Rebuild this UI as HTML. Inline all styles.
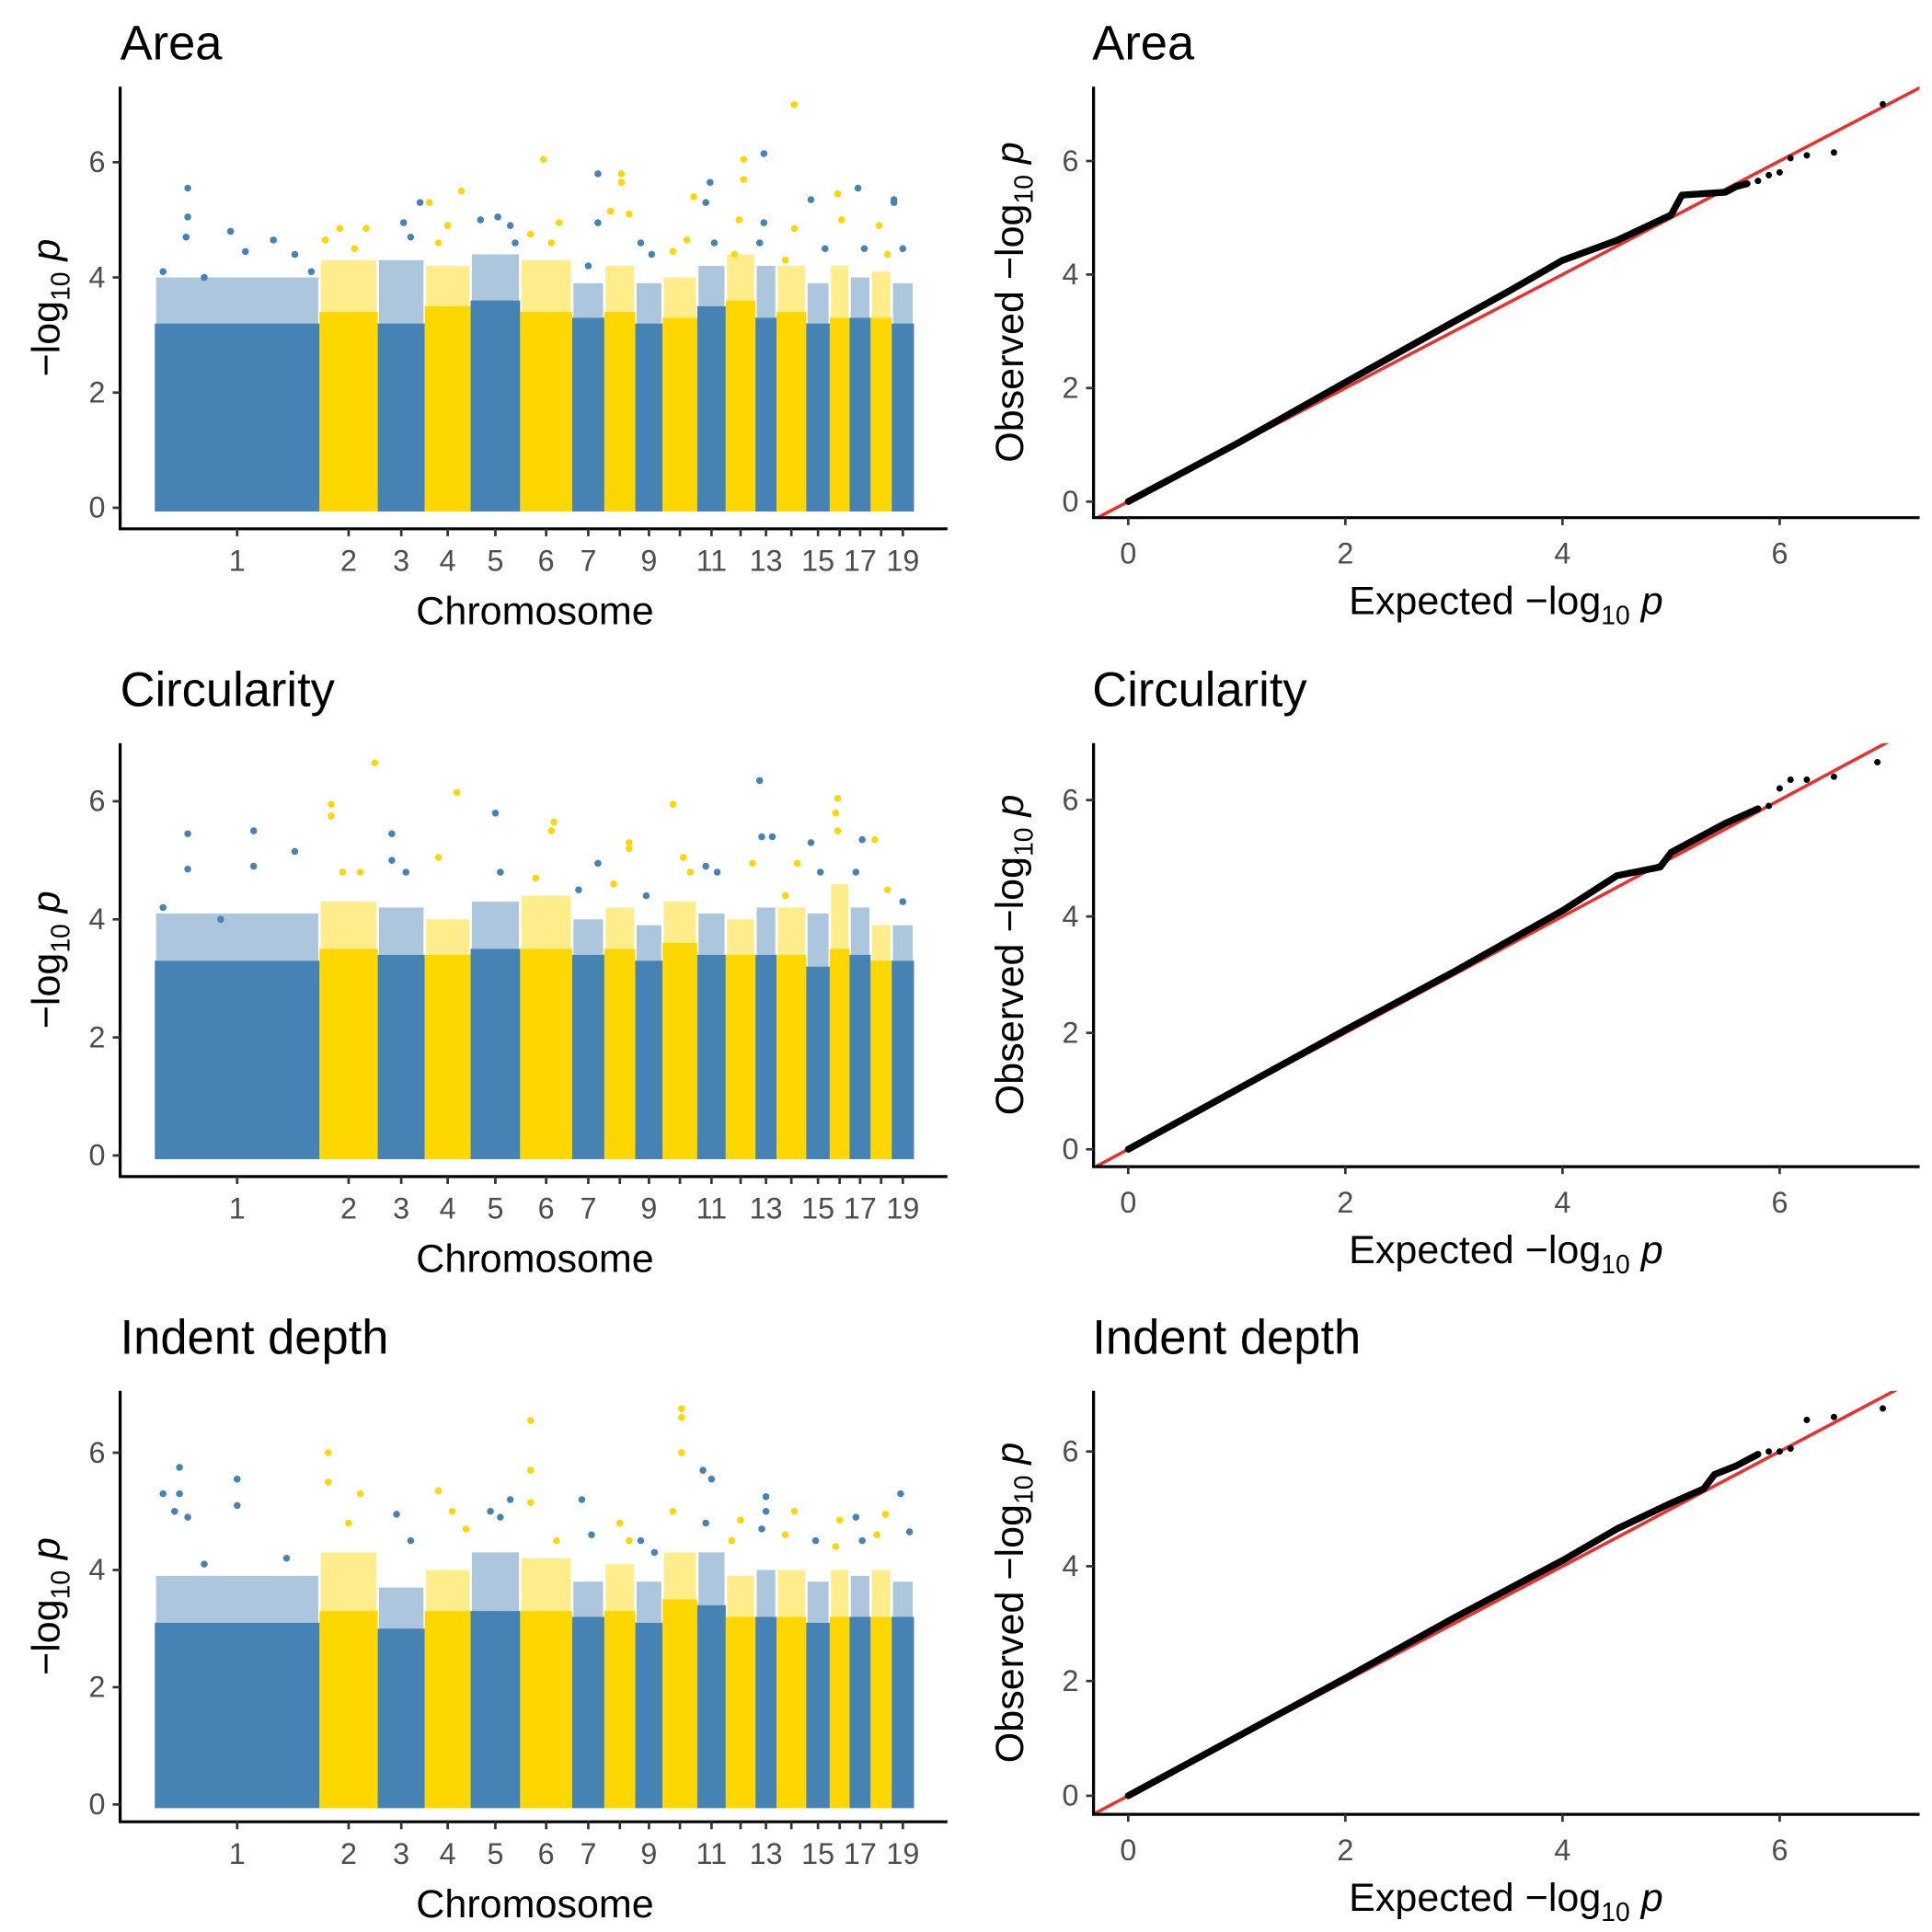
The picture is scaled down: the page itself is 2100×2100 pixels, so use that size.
<!DOCTYPE html>
<html><head><meta charset="utf-8"><style>
html,body{margin:0;padding:0;background:#fff}
svg{display:block}
text{font-family:"Liberation Sans",sans-serif}
</style></head><body>
<svg id="fig" width="2100" height="2100" viewBox="0 0 1560 1560" xmlns="http://www.w3.org/2000/svg"></svg>
<script>
// ---------- data ----------
const chromNames = ["1","2","3","4","5","6","7","8","9","10","11","12","13","14","15","16","17","18","19"];
const chromLengths = [133,47,38,37,40,42,26,25,22,28,23,24,17,24,19,16,17,17,18];
const tickLabelsShown = ["1","2","3","4","5","6","7","","9","","11","","13","","15","","17","","19"];
const yTicks = [0,2,4,6];
const qqTicks = [0,2,4,6];
const panelTitles = ["Area","Circularity","Indent depth"];

const areaCeil = [3.2,3.4,3.2,3.5,3.6,3.4,3.3,3.4,3.2,3.3,3.5,3.6,3.3,3.4,3.2,3.3,3.3,3.3,3.2];
const circCeil = [3.3,3.5,3.4,3.4,3.5,3.5,3.4,3.5,3.3,3.6,3.4,3.4,3.4,3.4,3.2,3.5,3.4,3.3,3.3];
const indentCeil = [3.1,3.3,3.0,3.3,3.3,3.3,3.2,3.3,3.1,3.5,3.4,3.2,3.2,3.2,3.1,3.2,3.2,3.2,3.2];
const areaSpread = [4.0,4.3,4.3,4.2,4.4,4.3,3.9,4.2,3.9,4.0,4.2,4.4,4.2,4.2,3.9,4.2,4.0,4.1,3.9];
const circSpread = [4.1,4.3,4.2,4.0,4.3,4.4,4.0,4.2,3.9,4.3,4.1,4.0,4.2,4.2,4.1,4.6,4.2,3.9,3.9];
const indentSpread = [3.9,4.3,3.7,4.0,4.3,4.2,3.8,4.1,3.8,4.3,4.3,3.9,4.0,4.0,3.8,4.0,3.9,4.0,3.8];

// hits: [chromosome index, fraction along chromosome, -log10 p]
const areaHits = [[0,0.2,5.55],[0,0.2,5.05],[0,0.19,4.7],[0,0.46,4.8],[0,0.55,4.45],[0,0.72,4.65],[0,0.85,4.4],[0,0.05,4.1],[0,0.3,4.0],[0,0.95,4.1],
[1,0.1,4.65],[1,0.35,4.85],[1,0.8,4.85],[1,0.6,4.5],[2,0.55,4.95],[2,0.9,5.3],[2,0.7,4.7],[3,0.1,5.3],[3,0.8,5.5],[3,0.5,4.9],[3,0.3,4.6],
[4,0.2,5.0],[4,0.55,5.05],[4,0.8,4.9],[4,0.9,4.6],[5,0.45,6.05],[5,0.2,4.75],[5,0.75,4.95],[5,0.6,4.6],[6,0.8,5.8],[6,0.8,4.95],[6,0.5,4.2],
[7,0.55,5.8],[7,0.55,5.65],[7,0.2,5.15],[7,0.8,5.1],[8,0.2,4.6],[8,0.6,4.4],[9,0.3,4.45],[9,0.7,4.65],[9,0.9,5.4],[10,0.45,5.65],[10,0.3,5.3],[10,0.6,4.6],
[11,0.6,6.05],[11,0.6,5.7],[11,0.45,5.0],[11,0.3,4.4],[12,0.4,6.15],[12,0.4,4.95],[12,0.2,4.6],[13,0.6,7.0],[13,0.6,4.85],[13,0.3,4.3],
[14,0.2,5.35],[14,0.8,4.5],[15,0.4,5.45],[15,0.6,5.0],[16,0.4,5.55],[16,0.7,4.5],[17,0.4,4.9],[17,0.8,4.4],[18,0.1,5.3],[18,0.1,5.35],[18,0.5,4.5]];
const circHits = [[0,0.2,5.45],[0,0.6,5.5],[0,0.85,5.15],[0,0.2,4.85],[0,0.6,4.9],[0,0.05,4.2],[0,0.4,4.0],
[1,0.2,5.95],[1,0.2,5.75],[1,0.95,6.65],[1,0.4,4.8],[1,0.7,4.8],[2,0.3,5.45],[2,0.3,5.0],[2,0.6,4.8],[3,0.7,6.15],[3,0.3,5.05],
[4,0.5,5.8],[4,0.6,4.8],[5,0.65,5.65],[5,0.6,5.5],[5,0.3,4.7],[6,0.8,4.95],[6,0.2,4.5],[7,0.8,5.3],[7,0.8,5.2],[7,0.3,4.6],[8,0.4,4.4],
[9,0.3,5.95],[9,0.6,5.05],[9,0.8,4.8],[10,0.3,4.9],[10,0.7,4.8],[11,0.9,4.95],[12,0.2,6.35],[12,0.3,5.4],[12,0.8,5.4],[13,0.7,4.95],[13,0.3,4.4],
[14,0.2,5.3],[14,0.6,4.8],[15,0.4,6.05],[15,0.3,5.8],[15,0.4,5.5],[16,0.6,5.35],[16,0.3,4.8],[17,0.2,5.35],[17,0.8,4.5],[18,0.5,4.3]];
const indentHits = [[0,0.15,5.75],[0,0.15,5.3],[0,0.12,5.0],[0,0.5,5.55],[0,0.5,5.1],[0,0.2,4.9],[0,0.05,5.3],[0,0.3,4.1],[0,0.8,4.2],
[1,0.15,6.0],[1,0.15,5.5],[1,0.7,5.3],[1,0.5,4.8],[2,0.4,4.95],[2,0.7,4.5],[3,0.3,5.35],[3,0.6,5.0],[3,0.9,4.7],[4,0.4,5.0],[4,0.8,5.2],[4,0.6,4.9],
[5,0.2,6.55],[5,0.2,5.7],[5,0.2,5.15],[5,0.7,4.5],[6,0.3,5.2],[6,0.6,4.6],[7,0.5,4.8],[7,0.8,4.5],[8,0.2,4.5],[8,0.7,4.3],
[9,0.55,6.75],[9,0.55,6.6],[9,0.55,6.0],[9,0.3,5.0],[10,0.2,5.7],[10,0.5,5.55],[10,0.3,4.8],[11,0.5,4.85],[11,0.2,4.5],
[12,0.5,5.25],[12,0.5,5.0],[12,0.3,4.7],[13,0.6,5.0],[13,0.3,4.6],[14,0.4,4.5],[15,0.5,4.85],[15,0.3,4.4],[16,0.3,4.9],[16,0.6,4.5],[17,0.3,4.6],[17,0.7,4.95],[18,0.4,5.3],[18,0.8,4.65]];

// QQ: line segments [expected, observed] and isolated top points
const areaQQLine = [[0,0],[1,1.02],[2,2.1],[3,3.17],[3.5,3.7],[4,4.25],[4.5,4.6],[5,5.05],[5.1,5.4],[5.5,5.45],[5.6,5.55],[5.7,5.6]];
const areaQQPts = [[5.8,5.65],[5.9,5.75],[6.0,5.8],[6.1,6.05],[6.25,6.1],[6.5,6.15],[6.95,7.0]];
const circQQLine = [[0,0],[2,2.05],[3,3.05],[4,4.1],[4.5,4.7],[4.9,4.85],[5.0,5.1],[5.5,5.6],[5.8,5.85]];
const circQQPts = [[5.9,5.9],[6.0,6.2],[6.1,6.35],[6.25,6.35],[6.5,6.4],[6.9,6.65]];
const indentQQLine = [[0,0],[2,2.05],[3,3.1],[3.5,3.6],[4,4.1],[4.5,4.65],[5,5.1],[5.3,5.35],[5.4,5.6],[5.6,5.75],[5.8,5.95]];
const indentQQPts = [[5.9,6.0],[6.0,6.0],[6.1,6.05],[6.25,6.55],[6.5,6.6],[6.95,6.75]];

// ---------- drawing ----------
const NS="http://www.w3.org/2000/svg";
const svg=document.getElementById('fig');
function el(tag,attrs,parent){const e=document.createElementNS(NS,tag);for(const k in attrs)e.setAttribute(k,attrs[k]);(parent||svg).appendChild(e);return e;}
const BLUE="#4682B4", GOLD="#FFD700";

function yLabel(g,x,y,prefix){
  const t=el('text',{x:x,y:y,'font-size':32,'text-anchor':'middle',transform:`rotate(-90 ${x} ${y})`,fill:'#000'},g);
  
  
  t.innerHTML=`${prefix}\u2212log<tspan font-size="21" dy="8">10</tspan><tspan dy="-8" font-style="italic"> p</tspan>`;
}

const mRows=[{top:70,bot:427,y0:410,y6:131,ty:48},{top:600,bot:950,y0:933,y6:647,ty:570},{top:1123,bot:1471,y0:1457,y6:1173,ty:1093}];
const qRows=[{top:70,bot:418,y0:405,y6:130,ty:48},{top:600,bot:942,y0:928,y6:646,ty:570},{top:1123,bot:1465,y0:1450,y6:1172,ty:1093}];
const ceils=[areaCeil,circCeil,indentCeil], spreads=[areaSpread,circSpread,indentSpread], hitsAll=[areaHits,circHits,indentHits];
const qqLines=[areaQQLine,circQQLine,indentQQLine], qqPts=[areaQQPts,circQQPts,indentQQPts];

const X0=125,X1=738;
const total=chromLengths.reduce((a,b)=>a+b,0);
const starts=[];let acc=0;chromLengths.forEach(l=>{starts.push(acc);acc+=l;});
const xChr=(c,f)=>X0+(starts[c]+f*chromLengths[c])/total*(X1-X0);

for(let r=0;r<3;r++){
  const R=mRows[r];
  const yS=v=>R.y0+(R.y6-R.y0)*v/6;
  const g=el('g',{});
  
  
  const tt=el('text',{x:97,y:R.ty,'font-size':39,fill:'#000'},g);tt.textContent=panelTitles[r];
  
  
  chromLengths.forEach((l,c)=>{
    const col=c%2?GOLD:BLUE;
    const x1=xChr(c,0),x2=xChr(c,1);
    const sp=el('rect',{x:x1+1,y:yS(spreads[r][c]),width:x2-x1-2,height:yS(ceils[r][c])-yS(spreads[r][c]),fill:col,opacity:0.45},g);
    
    
    const rc=el('rect',{x:x1,y:yS(ceils[r][c]),width:x2-x1,height:yS(0)-yS(ceils[r][c])+3,fill:col},g);
    
    
  });
  hitsAll[r].forEach(h=>{
    const p=el('circle',{cx:xChr(h[0],h[1]),cy:yS(h[2]),r:2.8,fill:h[0]%2?GOLD:BLUE},g);
    
    
  });
  el('line',{x1:97,y1:R.top,x2:97,y2:R.bot+1,stroke:'#000','stroke-width':2.4},g);
  el('line',{x1:96,y1:R.bot,x2:765,y2:R.bot,stroke:'#000','stroke-width':2.4},g);
  yTicks.forEach(v=>{
    el('line',{x1:91,y1:yS(v),x2:97,y2:yS(v),stroke:'#333','stroke-width':2},g);
    const t=el('text',{x:85,y:yS(v)+8,'font-size':24,'text-anchor':'end',fill:'#4d4d4d'},g);t.textContent=v;
    
    
  });
  chromNames.forEach((n,c)=>{
    const x=xChr(c,0.5);
    el('line',{x1:x,y1:R.bot,x2:x,y2:R.bot+6,stroke:'#333','stroke-width':2},g);
    if(tickLabelsShown[c]){const t=el('text',{x:x,y:R.bot+34,'font-size':24,'text-anchor':'middle',fill:'#4d4d4d'},g);t.textContent=tickLabelsShown[c];
      
      }
  });
  const xl=el('text',{x:432,y:R.bot+77,'font-size':32,'text-anchor':'middle',fill:'#000'},g);xl.textContent='Chromosome';
  
  
  yLabel(g,48,(R.top+R.bot)/2,'');
}

for(let r=0;r<3;r++){
  const R=qRows[r];
  const xS=v=>911+(1437-911)*v/6;
  const yS=v=>R.y0+(R.y6-R.y0)*v/6;
  const g=el('g',{});
  
  
  const tt=el('text',{x:882,y:R.ty,'font-size':39,fill:'#000'},g);tt.textContent=panelTitles[r];
  
  
  const cp='clip'+r;
  const cl=el('clipPath',{id:cp},g);el('rect',{x:883,y:R.top,width:667,height:R.bot-R.top},cl);
  const vMin=-0.4, vMax=8;
  const ref=el('line',{x1:xS(vMin),y1:yS(vMin),x2:xS(vMax),y2:yS(vMax),stroke:'#E8312F','stroke-width':2.6,'clip-path':`url(#${cp})`},g);
  
  
  const pl=el('polyline',{points:qqLines[r].map(p=>xS(p[0])+','+yS(p[1])).join(' '),fill:'none',stroke:'#000','stroke-width':5.5,'stroke-linejoin':'round','stroke-linecap':'round'},g);
  
  
  qqPts[r].forEach(p=>{
    const c=el('circle',{cx:xS(p[0]),cy:yS(p[1]),r:2.6,fill:'#000'},g);
    
    
  });
  el('line',{x1:883,y1:R.top,x2:883,y2:R.bot+1,stroke:'#000','stroke-width':2.4},g);
  el('line',{x1:882,y1:R.bot,x2:1550,y2:R.bot,stroke:'#000','stroke-width':2.4},g);
  qqTicks.forEach(v=>{
    el('line',{x1:877,y1:yS(v),x2:883,y2:yS(v),stroke:'#333','stroke-width':2},g);
    const t=el('text',{x:871,y:yS(v)+8,'font-size':24,'text-anchor':'end',fill:'#4d4d4d'},g);t.textContent=v;
    
    
    el('line',{x1:xS(v),y1:R.bot,x2:xS(v),y2:R.bot+6,stroke:'#333','stroke-width':2},g);
    const t2=el('text',{x:xS(v),y:R.bot+37,'font-size':24,'text-anchor':'middle',fill:'#4d4d4d'},g);t2.textContent=v;
    
    
  });
  const xl=el('text',{x:1216,y:R.bot+78,'font-size':32,'text-anchor':'middle',fill:'#000'},g);
  xl.innerHTML='Expected \u2212log<tspan font-size="21" dy="8">10</tspan><tspan dy="-8" font-style="italic"> p</tspan>';
  
  
  yLabel(g,826,(R.top+R.bot)/2,'Observed ');
}
</script>
</body></html>
